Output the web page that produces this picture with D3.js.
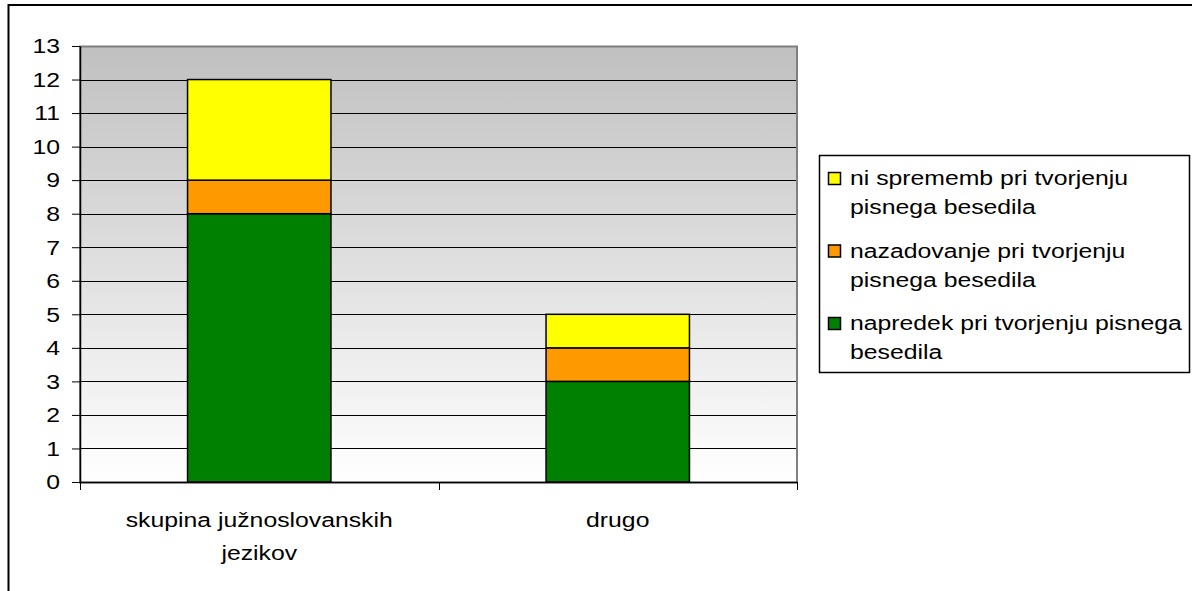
<!DOCTYPE html>
<html>
<head>
<meta charset="utf-8">
<script src="https://cdn.jsdelivr.net/npm/d3@7"></script>
<style>
  html, body { margin: 0; padding: 0; background: #fff; }
  svg { display: block; font-family: "Liberation Sans", Arial, sans-serif; }
</style>
</head>
<body>
<svg id="chart" width="1192" height="591"></svg>
<script>
// Categories (x axis) and the stacked series, bottom to top
const categories = ["skupina južnoslovanskih jezikov", "drugo"];
const categoryLines = [["skupina južnoslovanskih", "jezikov"], ["drugo"]];
const seriesNames = [
  "napredek pri tvorjenju pisnega besedila",
  "nazadovanje pri tvorjenju pisnega besedila",
  "ni sprememb pri tvorjenju pisnega besedila"
];
const napredek = [8, 3];
const nazadovanje = [1, 1];
const niSprememb = [3, 1];
const seriesColors = ["#008000", "#ff9900", "#ffff00"];
const yTicks = d3.range(0, 14);
const legendLines = [
  ["ni sprememb pri tvorjenju", "pisnega besedila"],
  ["nazadovanje pri tvorjenju", "pisnega besedila"],
  ["napredek pri tvorjenju pisnega", "besedila"]
];

const FONT = 21;      // glyph height
const STRETCH = 1.18; // horizontal widening of all labels

const svg = d3.select("#chart");
const plot = { left: 80, right: 797, top: 46, bottom: 482 };

// draws a (possibly multi-line) label widened horizontally around its anchor
function label(g, x, y, lines, anchor, lineGap) {
  const t = g.append("text")
    .attr("transform", `translate(${x},${y}) scale(${STRETCH},1)`)
    .attr("text-anchor", anchor)
    .attr("font-size", FONT).attr("fill", "#000");
  t.selectAll("tspan").data(lines).join("tspan")
    .attr("x", 0).attr("y", (d, j) => j * lineGap)
    .text(d => d);
  return t;
}

// Outer chart frame (extends past right/bottom edges)
svg.append("rect")
  .attr("x", 8.5).attr("y", 5).attr("width", 1200).attr("height", 600)
  .attr("fill", "#fff").attr("stroke", "#000").attr("stroke-width", 2);

// Plot background gradient
const defs = svg.append("defs");
const grad = defs.append("linearGradient").attr("id", "bg")
  .attr("x1", 0).attr("y1", 0).attr("x2", 0).attr("y2", 1);
grad.append("stop").attr("offset", "0%").attr("stop-color", "#c0c0c0");
grad.append("stop").attr("offset", "100%").attr("stop-color", "#ffffff");

svg.append("rect")
  .attr("x", plot.left).attr("y", plot.top)
  .attr("width", plot.right - plot.left).attr("height", plot.bottom - plot.top)
  .attr("fill", "url(#bg)");

const x = d3.scaleBand().domain(categories).range([plot.left, plot.right]).paddingInner(0).paddingOuter(0);
const y = d3.scaleLinear().domain([0, 13]).range([plot.bottom, plot.top]);

// Gridlines
svg.append("g").selectAll("line").data(yTicks.filter(d => d > 0)).join("line")
  .attr("x1", plot.left).attr("x2", plot.right)
  .attr("y1", d => Math.round(y(d)) + 0.5).attr("y2", d => Math.round(y(d)) + 0.5)
  .attr("stroke", "#000").attr("stroke-width", 1);

// Plot area border
svg.append("rect")
  .attr("x", plot.left).attr("y", plot.top + 0.5)
  .attr("width", plot.right - plot.left).attr("height", plot.bottom - plot.top)
  .attr("fill", "none").attr("stroke", "#808080").attr("stroke-width", 2);

// Stacked bars
const rows = categories.map((c, i) => ({ cat: c, napredek: napredek[i], nazadovanje: nazadovanje[i], ni: niSprememb[i] }));
const stack = d3.stack().keys(["napredek", "nazadovanje", "ni"])(rows);
const barW = x.bandwidth() * 0.4;
svg.append("g").selectAll("g").data(stack).join("g")
  .attr("fill", (d, i) => seriesColors[i])
  .selectAll("rect").data(d => d).join("rect")
  .attr("x", d => x(d.data.cat) + (x.bandwidth() - barW) / 2)
  .attr("width", barW)
  .attr("y", d => y(d[1]))
  .attr("height", d => y(d[0]) - y(d[1]))
  .attr("stroke", "#000").attr("stroke-width", 1.5);

// Y axis
const yAxis = svg.append("g").attr("transform", `translate(${plot.left},0)`)
  .call(d3.axisLeft(y).tickValues(yTicks).tickSize(8).tickFormat("").tickSizeOuter(0));
yAxis.select(".domain").attr("stroke", "#000").attr("stroke-width", 1.5);
yAxis.selectAll(".tick line").attr("stroke", "#000");
const yLabels = svg.append("g");
yTicks.forEach(v => {
  label(yLabels, 60, y(v), [String(v)], "end", 0).attr("dominant-baseline", "central");
});

// X axis
const xAxis = svg.append("g").attr("transform", `translate(0,${plot.bottom})`)
  .call(d3.axisBottom(x).tickSize(0).tickFormat(""));
xAxis.select(".domain").attr("stroke", "#000").attr("stroke-width", 1.5);
// tick marks at category boundaries
const bounds = [plot.left, ...categories.slice(1).map(c => x(c)), plot.right];
svg.append("g").selectAll("line").data(bounds).join("line")
  .attr("x1", d => Math.round(d) + 0.5).attr("x2", d => Math.round(d) + 0.5)
  .attr("y1", plot.bottom).attr("y2", plot.bottom + 8)
  .attr("stroke", "#000");

// Category labels
const xLabels = svg.append("g");
categories.forEach((c, i) => {
  label(xLabels, x(c) + x.bandwidth() / 2, 527, categoryLines[i], "middle", 33);
});

// Legend
const legend = svg.append("g");
legend.append("rect")
  .attr("x", 819.5).attr("y", 155.5).attr("width", 370).attr("height", 217)
  .attr("fill", "#fff").attr("stroke", "#000").attr("stroke-width", 1.5);
const legendOrder = [2, 1, 0];
legendOrder.forEach((s, i) => {
  const dy = i * 72.5;
  legend.append("rect")
    .attr("x", 828.5).attr("y", 172.5 + dy).attr("width", 12).attr("height", 12)
    .attr("fill", seriesColors[s]).attr("stroke", "#000").attr("stroke-width", 1.5);
  label(legend, 850, 185 + dy, legendLines[i], "start", 29.5);
});
</script>
</body>
</html>
